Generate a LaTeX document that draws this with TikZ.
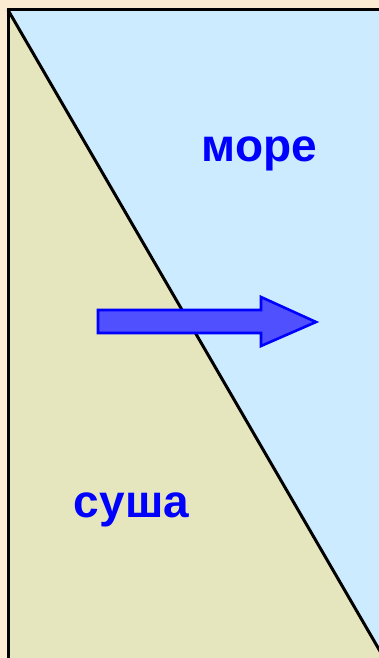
\documentclass[tikz,border=0pt]{standalone}
\usepackage{fontspec}
\setmainfont{Liberation Sans}
\definecolor{cream}{HTML}{FAEBD2}
\definecolor{land}{HTML}{E6E6BE}
\definecolor{sea}{HTML}{CCEBFF}
\definecolor{arrowfill}{HTML}{5050FF}
\definecolor{txtblue}{HTML}{0000FF}
\begin{document}
\begin{tikzpicture}[x=1pt,y=-1pt,
  label/.style={text=txtblue,font=\fontsize{46}{54}\selectfont\bfseries,inner sep=0pt,anchor=base},
  border/.style={black,line width=3pt}]
\useasboundingbox (0,0) rectangle (379,658);
\fill[cream] (0,0) rectangle (379,658);
\clip (0,0) rectangle (379,658);
\coordinate (tl) at (8,10);
\coordinate (br) at (384,658);
\fill[sea] (tl) -- (400,10) -- (400,670) -- (br) -- cycle;
\fill[land] (tl) -- (br) -- (8,670) -- cycle;
\draw[border] (tl) -- (br);
\draw[border] (8,670) -- (tl) -- (400,10);
\draw[txtblue,line width=2.6pt,fill=arrowfill,line join=miter]
  (98,310) -- (261,310) -- (261,297) -- (316,322) -- (261,346) -- (261,333) -- (98,333) -- cycle;
\node[label] (sea) at (259.5,161) {море};
\node[label] (land) at (131.5,517) {суша};
\end{tikzpicture}
\end{document}
